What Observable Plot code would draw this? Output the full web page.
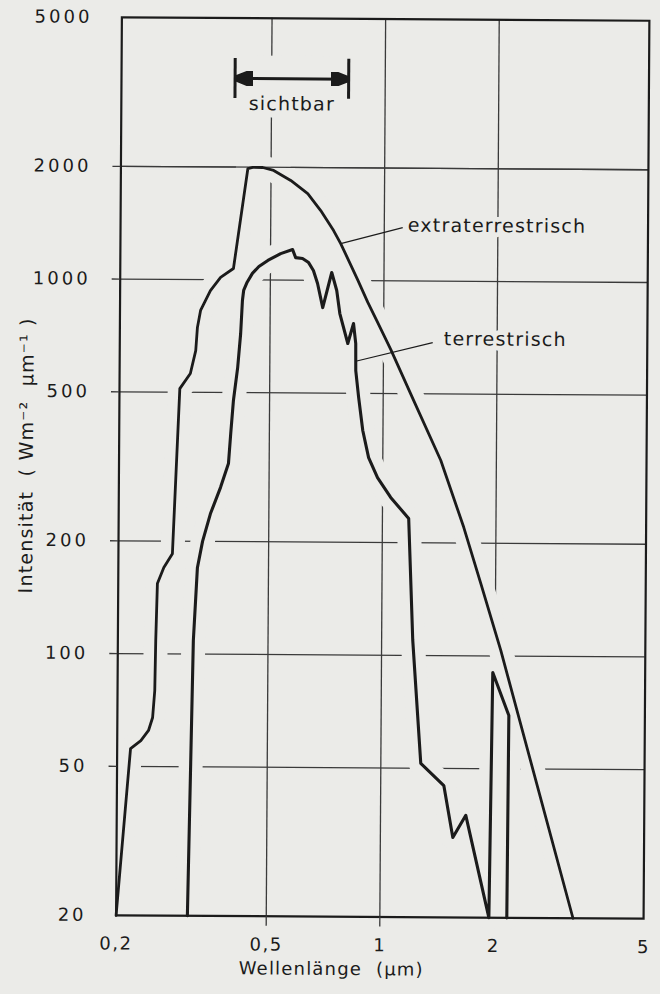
<!DOCTYPE html>
<html>
<head>
<meta charset="utf-8">
<script src="https://cdn.jsdelivr.net/npm/d3@7"></script>
<script src="https://cdn.jsdelivr.net/npm/@observablehq/plot@0.6"></script>
<style>
  html, body { margin: 0; padding: 0; background: #ebebe8; }
  #chart svg {
    display: block;
    transform: rotate(0.37deg);
    transform-origin: 380px 466px;
  }
  #chart svg, #chart svg text { font-family: "DejaVu Sans", sans-serif !important; }
</style>
</head>
<body>
<div id="chart"></div>
<script>
// ---- data ----
const xTicks = [0.2, 0.5, 1, 2, 5];
const xTickLabels = ["0,2", "0,5", "1", "2", "5"];
const yTicks = [20, 50, 100, 200, 500, 1000, 2000, 5000];
const yTickLabels = ["20", "50", "100", "200", "500", "1000", "2000", "5000"];
const xGrid = [0.5, 1, 2];
const yGrid = [50, 100, 200, 500, 1000, 2000];

const etWavelength = [0.2, 0.217, 0.231, 0.242, 0.248, 0.251, 0.252, 0.254, 0.264, 0.278, 0.289, 0.308, 0.318, 0.321, 0.327, 0.347, 0.369, 0.399, 0.434, 0.447, 0.475, 0.508, 0.564, 0.626, 0.678, 0.734, 0.767, 0.852, 0.907, 0.963, 1.045, 1.205, 1.425, 1.644, 1.828, 2.07, 3.25];
const etIntensity = [20, 55.8, 58.6, 62.4, 67.6, 79.8, 108.5, 154, 170, 185, 511, 561, 646, 745, 827, 935, 1014, 1072, 1983, 1997, 1997, 1962, 1846, 1704, 1536, 1359, 1255, 1005, 875, 775, 656, 479, 332, 220, 156, 103.5, 20];

const terrWavelength = [0.309, 0.317, 0.324, 0.334, 0.350, 0.372, 0.390, 0.395, 0.401, 0.411, 0.418, 0.422, 0.425, 0.434, 0.448, 0.466, 0.492, 0.532, 0.572, 0.583, 0.608, 0.631, 0.650, 0.667, 0.689, 0.727, 0.750, 0.765, 0.804, 0.832, 0.844, 0.845, 0.861, 0.884, 0.917, 0.969, 1.051, 1.174, 1.209, 1.276, 1.47, 1.556, 1.683, 1.945, 1.973, 2.18, 2.17];
const terrIntensity = [20, 108.7, 170, 200, 237, 279, 323, 389, 476, 583, 719, 881, 937, 986, 1041, 1086, 1128, 1177, 1207, 1149, 1143, 1115, 1062, 981, 846, 1050, 940, 816, 679, 768, 679, 575, 487, 398, 337, 298, 264, 232, 110, 51.5, 45, 32.7, 37.5, 20, 90.3, 69.4, 20];

const seriesLabels = ["extraterrestrisch", "terrestrisch"];
const seriesLabelWavelength = [1.154, 1.444];
const seriesLabelIntensity = [1406, 700];
const leaderFromWavelength = [0.767, 0.850];
const leaderFromIntensity = [1255, 610];
const leaderToWavelength = [1.119, 1.35];
const leaderToIntensity = [1388, 685];

const visibleRange = [0.4, 0.8];
const visibleLabel = "sichtbar";
const visibleArrowIntensity = 3450;
const visibleBarIntensity = [3050, 3900];
const visibleLabelAnchor = [0.566, 2950];

const xTitle = "Wellenlänge  (µm)";
const xTitleWavelength = 0.745;
const yTitle = "Intensität  ( Wm⁻²  µm⁻¹ )";
const yTitleIntensity = 337;

// ---- styling ----
const PAPER = "#ebebe8";
const INK = "#1b1b1b";
const GRID = "#3a3a3a";
const FONT = '"DejaVu Sans", sans-serif';
const LETTER_SPACING = {
  "y-axis tick label": "3px",
  "x-axis tick label": "1.5px",
  "curve label": "1.4px",
  "x axis title": "1.8px",
  "y axis title": "1.9px"
};

const et = etWavelength.map((x, i) => ({x, y: etIntensity[i]}));
const terr = terrWavelength.map((x, i) => ({x, y: terrIntensity[i]}));
const leaders = leaderFromWavelength.map((x1, i) => ({
  x1, y1: leaderFromIntensity[i], x2: leaderToWavelength[i], y2: leaderToIntensity[i]
}));
const arrow = [{x1: visibleRange[0], x2: visibleRange[1], y: visibleArrowIntensity}];

function filledArrow(color) {
  return d3.create("svg:marker")
    .attr("viewBox", "-10 -4 10 8")
    .attr("markerWidth", 6)
    .attr("markerHeight", 4.8)
    .attr("orient", "auto-start-reverse")
    .attr("fill", color)
    .call(m => m.append("path").attr("d", "M0,0L-10,-4L-10,4Z"))
    .node();
}

const chart = Plot.plot({
  width: 660,
  height: 994,
  marginLeft: 118.5,
  marginRight: 14,
  marginTop: 18.5,
  marginBottom: 77.5,
  x: {type: "log", domain: [0.2, 5]},
  y: {type: "log", domain: [20, 5000]},
  style: {background: "none", fontFamily: FONT, fontSize: "18px", color: INK},
  marks: [
    // grid
    Plot.gridX(xGrid, {stroke: GRID, strokeOpacity: 1, strokeWidth: 1.3}),
    Plot.gridY(yGrid, {stroke: GRID, strokeOpacity: 1, strokeWidth: 1.3}),
    // paper-coloured halos interrupt the grid where curves cross it
    Plot.line(et, {x: "x", y: "y", stroke: PAPER, strokeWidth: 24, strokeLinejoin: "round", strokeLinecap: "round"}),
    Plot.line(terr, {x: "x", y: "y", stroke: PAPER, strokeWidth: 24, strokeLinejoin: "round", strokeLinecap: "round"}),
    Plot.link(arrow, {x1: "x1", x2: "x2", y1: "y", y2: "y", stroke: PAPER, strokeWidth: 46}),
    Plot.gridY(yGrid.filter(v => v >= 2000), {stroke: GRID, strokeOpacity: 1, strokeWidth: 1.3}),
    // frame and ticks
    Plot.frame({stroke: INK, strokeWidth: 2.2}),
    Plot.axisY(yGrid, {tickSize: 8, tickFormat: () => "", label: null, stroke: GRID, strokeWidth: 1.3}),
    Plot.axisX(xGrid.filter(v => v < 2), {tickSize: 10, tickFormat: () => "", label: null, stroke: GRID, strokeWidth: 1.3}),
    Plot.axisY(yTicks, {tickSize: 0, tickPadding: 29.5, tickFormat: d => yTickLabels[yTicks.indexOf(d)], label: null, fontSize: 18, fontFamily: FONT, fill: INK}),
    Plot.axisX(xTicks, {tickSize: 0, tickPadding: 21.5, tickFormat: d => xTickLabels[xTicks.indexOf(d)], label: null, fontSize: 18, fontFamily: FONT, fill: INK}),
    // curves
    Plot.line(et, {x: "x", y: "y", stroke: INK, strokeWidth: 2.8, strokeLinejoin: "round"}),
    Plot.line(terr, {x: "x", y: "y", stroke: INK, strokeWidth: 3.1, strokeLinejoin: "round"}),
    // visible band marker
    Plot.ruleX(visibleRange, {y1: visibleBarIntensity[0], y2: visibleBarIntensity[1], stroke: INK, strokeWidth: 3}),
    Plot.link(arrow, {x1: "x1", x2: "x2", y1: "y", y2: "y", stroke: INK, strokeWidth: 3, markerStart: filledArrow, markerEnd: filledArrow}),
    Plot.text([visibleLabel], {x: () => visibleLabelAnchor[0], y: () => visibleLabelAnchor[1], text: d => d, fontSize: 19, fontFamily: FONT, fill: INK, stroke: PAPER, strokeWidth: 14, lineAnchor: "middle", textAnchor: "middle", ariaLabel: "curve label"}),
    // curve labels + leaders
    Plot.text(seriesLabels, {x: (d, i) => seriesLabelWavelength[i], y: (d, i) => seriesLabelIntensity[i], text: d => d, textAnchor: "start", lineAnchor: "middle", fontSize: 19, fontFamily: FONT, fill: INK, stroke: PAPER, strokeWidth: 10, ariaLabel: "curve label"}),
    Plot.link(leaders, {x1: "x1", y1: "y1", x2: "x2", y2: "y2", stroke: INK, strokeWidth: 1.2}),
    // axis titles
    Plot.text([xTitle], {x: () => xTitleWavelength, frameAnchor: "bottom", dy: 52.5, text: d => d, fontSize: 18, fontFamily: FONT, fill: INK, textAnchor: "middle", lineAnchor: "middle", ariaLabel: "x axis title"}),
    Plot.text([yTitle], {y: () => yTitleIntensity, frameAnchor: "left", dx: -92.3, rotate: -90, text: d => d, fontSize: 19, fontFamily: FONT, fill: INK, textAnchor: "middle", lineAnchor: "middle", ariaLabel: "y axis title"})
  ]
});

// wide, drafting-style letter spacing
d3.select(chart).selectAll("text").each(function () {
  let node = this.parentNode, spacing = null;
  while (node && node !== chart && spacing == null) {
    const label = node.getAttribute && node.getAttribute("aria-label");
    if (label && LETTER_SPACING[label]) spacing = LETTER_SPACING[label];
    node = node.parentNode;
  }
  this.setAttribute("letter-spacing", spacing || "1.2px");
  this.style.letterSpacing = spacing || "1.2px";
});

document.getElementById("chart").appendChild(chart);
</script>
</body>
</html>
